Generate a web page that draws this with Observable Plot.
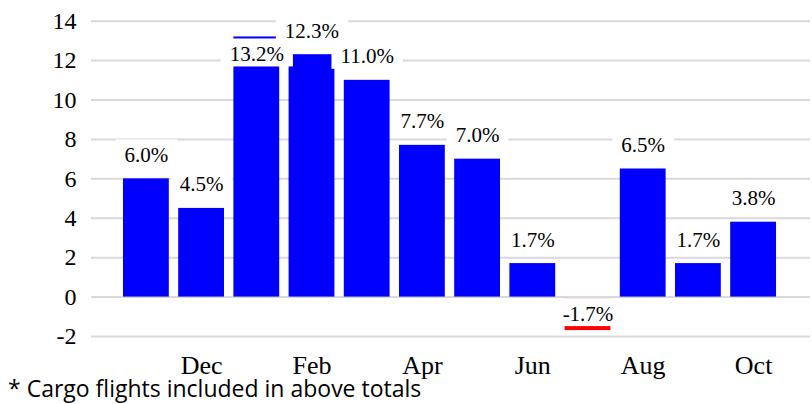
<!DOCTYPE html>
<html><head><meta charset="utf-8">
<script src="https://cdn.jsdelivr.net/npm/d3@7"></script>
<script src="https://cdn.jsdelivr.net/npm/@observablehq/plot@0.6"></script>
<style>
html,body{margin:0;padding:0;background:#fff;}
#wrap{position:relative;width:812px;height:404px;overflow:hidden;}
#caption{position:absolute;left:8px;top:381px;font-family:'Open Sans',sans-serif;font-size:23px;line-height:14px;color:#000;white-space:nowrap;}
</style></head><body>
<div id="wrap"><div id="chart"></div><div id="caption"></div></div>
<script>
// ---- data ----
const months = ["Nov","Dec","Jan","Feb","Mar","Apr","May","Jun","Jul","Aug","Sep","Oct"];
const growth = [6.0, 4.5, 13.2, 12.3, 11.0, 7.7, 7.0, 1.7, -1.7, 6.5, 1.7, 3.8];
const xTickLabels = ["Dec","Feb","Apr","Jun","Aug","Oct"];
const yTicks = [-2, 0, 2, 4, 6, 8, 10, 12, 14];
const captionText = "* Cargo flights included in above totals";

const data = months.map((m, i) => ({month: m, value: growth[i]}));
const fmt = v => v.toFixed(1) + "%";
const insideThreshold = 13; // labels above this would leave the chart: placed inside the bar

const labelCommon = {x: "month", y: "value", text: d => fmt(d.value), lineAnchor: "bottom", fontSize: 21, fill: "#000"};
const gridStyle = {stroke: "#d9d9d9", strokeWidth: 2};

const chart = Plot.plot({
  width: 812, height: 404,
  marginLeft: 91, marginRight: 2, marginTop: 21, marginBottom: 68,
  style: {fontFamily: "'Liberation Serif','Times New Roman',serif", fontSize: "21px", color: "#000", background: "#fff", overflow: "visible"},
  x: {domain: months, range: [113.6, 785.4], padding: 0.17, round: false, label: null},
  y: {domain: [-2, 14], range: [336, 20.7], label: null},
  marks: [
    Plot.ruleY(yTicks, gridStyle),
    Plot.barY(data, {filter: d => d.value < 0, x: "month", y: "value", fill: "#ff0000"}),
    Plot.ruleY([0], gridStyle),
    Plot.barY(data, {filter: d => d.value >= 0, x: "month", y: "value", fill: "#0000ff"}),
    Plot.text(data, {...labelCommon, filter: d => d.value > insideThreshold, dy: 24}),
    Plot.text(data, {...labelCommon, filter: d => d.value >= 0 && d.value <= insideThreshold, dy: -17}),
    Plot.text(data, {...labelCommon, filter: d => d.value < 0, dy: -10}),
    Plot.axisY({ticks: yTicks, tickSize: 0, tickPadding: 15, fontSize: 24, tickFormat: d => String(d), label: null}),
    Plot.axisX({ticks: xTickLabels, tickSize: 0, tickPadding: 19, fontSize: 26, label: null})
  ]
});

document.getElementById("chart").append(chart);
document.getElementById("caption").textContent = captionText;

// white label boxes behind the data labels
const labelSet = new Set(growth.map(fmt));
const labelTexts = Array.from(chart.querySelectorAll("text")).filter(t => labelSet.has(t.textContent));
labelTexts.forEach(t => {
  const g = t.parentNode;
  const b = t.getBBox();
  const r = document.createElementNS("http://www.w3.org/2000/svg", "rect");
  r.setAttribute("x", b.x - 9);
  r.setAttribute("y", b.y - 3.5);
  r.setAttribute("width", b.width + 18);
  r.setAttribute("height", b.height + 4);
  r.setAttribute("fill", "#fff");
  const tr = t.getAttribute("transform");
  if (tr) r.setAttribute("transform", tr);
  g.insertBefore(r, g.querySelector("text"));
});
</script>
</body></html>
